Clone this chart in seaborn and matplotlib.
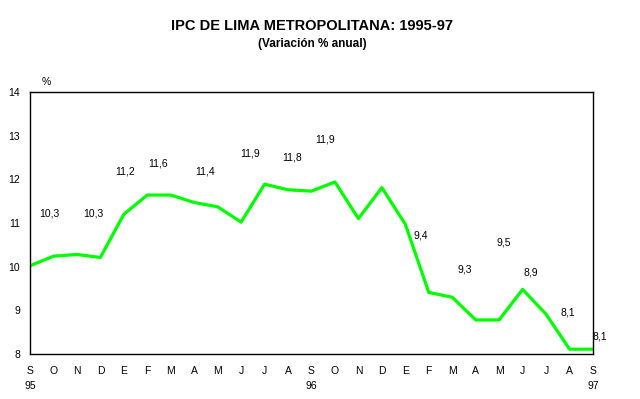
import matplotlib
matplotlib.use("Agg")
import matplotlib.pyplot as plt
import seaborn as sns
import pandas as pd

months = ['S', 'O', 'N', 'D', 'E', 'F', 'M', 'A', 'M', 'J', 'J', 'A',
          'S', 'O', 'N', 'D', 'E', 'F', 'M', 'A', 'M', 'J', 'J', 'A', 'S']
years = {0: '95', 12: '96', 24: '97'}
values = [10.02, 10.24, 10.28, 10.21, 11.20, 11.64, 11.64, 11.47, 11.37, 11.02,
          11.89, 11.76, 11.73, 11.94, 11.10, 11.81, 10.97, 9.41, 9.30, 8.78,
          8.78, 9.48, 8.91, 8.11, 8.11]

label_text = ['10,3', '10,3', '11,2', '11,6', '11,4', '11,9', '11,8', '11,9',
              '9,4', '9,3', '9,5', '8,9', '8,1', '8,1']
label_x = [0.84, 2.69, 4.06, 5.46, 7.46, 9.37, 11.17, 12.59,
           16.65, 18.54, 20.21, 21.36, 22.94, 24.30]
label_y = [11.22, 11.21, 12.18, 12.36, 12.19, 12.59, 12.50, 12.91,
           10.71, 9.94, 10.56, 9.87, 8.95, 8.40]

sns.set_style("white")
plt.rcParams['font.family'] = ['Liberation Sans', 'DejaVu Sans']
plt.rcParams['text.color'] = 'black'
plt.rcParams['xtick.color'] = 'black'
plt.rcParams['ytick.color'] = 'black'
plt.rcParams['axes.labelcolor'] = 'black'

df = pd.DataFrame({'idx': range(len(values)), 'val': values})

fig = plt.figure(figsize=(6.4, 3.99), dpi=100)
ax = fig.add_axes([30/640, 1-354/399, (593-30)/640, (354-92)/399])
sns.lineplot(data=df, x='idx', y='val', ax=ax, color='#00FF00', linewidth=2.3)

ax.set_xlim(0, len(values)-1)
ax.set_ylim(8, 14)
ax.set_yticks(range(8, 15))
ax.set_yticklabels([str(v) for v in range(8, 15)], fontsize=7.5)
ax.set_xticks(range(len(values)))
ax.set_xticklabels([m + ('\n' + years[i] if i in years else '\n') for i, m in enumerate(months)],
                   fontsize=7.5, linespacing=1.55)
ax.tick_params(axis='both', direction='out', length=4, width=1, color='black', pad=3)
ax.tick_params(axis='x', pad=5)
for s in ax.spines.values():
    s.set_color('black')
    s.set_linewidth(1)
ax.set_xlabel('')
ax.set_ylabel('')
ax.grid(False)

for t, x, y in zip(label_text, label_x, label_y):
    ax.text(x, y, t, fontsize=7.5, ha='center', va='center', color='black')

ax.text(0.028, 1.04, '%', transform=ax.transAxes, fontsize=7.5, ha='center', va='center',
        color='black')

fig.text(312/640, 1-26/399, 'IPC DE LIMA METROPOLITANA: 1995-97', fontsize=10.5,
         fontweight='bold', ha='center', va='center', color='black')
fig.text(312/640, 1-44/399, '(Variación % anual)', fontsize=8.5,
         fontweight='bold', ha='center', va='center', color='black')

fig.savefig('out.png', dpi=100, facecolor='white')
